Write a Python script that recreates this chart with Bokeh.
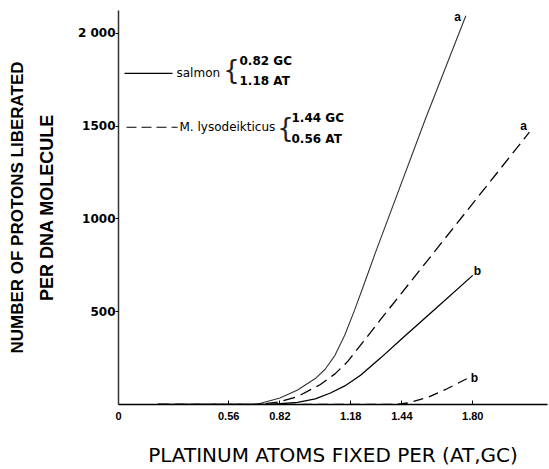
from bokeh.plotting import figure
from bokeh.models import FixedTicker, Label, PrintfTickFormatter, LinearAxis
from bokeh.embed import file_html
from bokeh.resources import INLINE

# ---------------- data ----------------
# salmon DNA (solid lines)
salmon_a_x = [0.20, 0.70, 0.82, 0.91, 1.00, 1.05, 1.10, 1.15, 1.20, 1.25, 1.306, 1.56, 1.765]
salmon_a_y = [0, 0, 35, 78, 140, 190, 265, 375, 510, 655, 820, 1540, 2095]
salmon_b_x = [0.20, 0.77, 0.91, 1.00, 1.077, 1.15, 1.23, 1.331, 1.448, 1.585, 1.80]
salmon_b_y = [0, 0, 12, 30, 62, 100, 158, 250, 362, 492, 696]
# M. lysodeikticus DNA (dashed lines)
lyso_a_x = [0.20, 0.72, 0.82, 0.91, 1.026, 1.10, 1.164, 1.245, 1.331, 1.57, 2.088]
lyso_a_y = [0, 0, 15, 43, 108, 165, 231, 340, 457, 776, 1468]
lyso_b_x = [0.20, 1.41, 1.47, 1.57, 1.67, 1.775]
lyso_b_y = [0, 0, 8, 38, 85, 142]

x_ticks = [0, 0.56, 0.82, 1.18, 1.44, 1.80]
y_ticks = [500, 1000, 1500, 2000]

# ---------------- layout ----------------
W, H = 549, 469
X0_PX, Y0_PX = 118, 405          # canvas position of the origin
PX_PER_X, PX_PER_Y = 196.8, 0.186

p = figure(width=W, height=H, output_backend="svg", toolbar_location=None,
           x_range=(0, 429 / PX_PER_X), y_range=(0, 395 / PX_PER_Y),
           min_border_left=118, min_border_right=2,
           min_border_top=10, min_border_bottom=64)
p.outline_line_color = None
p.xgrid.visible = False
p.ygrid.visible = False
p.background_fill_color = "white"
p.border_fill_color = "white"

# y axis
p.yaxis.ticker = FixedTicker(ticks=y_ticks)
p.yaxis.major_label_overrides = {2000: "2 000"}
p.yaxis.minor_tick_line_color = None
p.yaxis.major_tick_out = 3
p.yaxis.major_tick_in = 0
p.yaxis.major_label_standoff = 0
p.yaxis.axis_line_color = "#333333"
p.yaxis.axis_line_width = 1.5
p.yaxis.major_label_text_font = "DejaVu Sans"
p.yaxis.major_label_text_font_style = "bold"
p.yaxis.major_label_text_font_size = "12px"
p.yaxis.major_label_text_color = "black"
p.yaxis.axis_label = "PER DNA MOLECULE"
p.yaxis.axis_label_text_font = "Liberation Sans"
p.yaxis.axis_label_text_font_style = "bold"
p.yaxis.axis_label_text_font_size = "18px"
p.yaxis.axis_label_text_color = "black"
p.yaxis.axis_label_standoff = 18

outer = LinearAxis(ticker=FixedTicker(ticks=[]), axis_line_color=None,
                   major_tick_line_color=None, minor_tick_line_color=None,
                   axis_label="NUMBER OF PROTONS LIBERATED",
                   axis_label_text_font="Liberation Sans",
                   axis_label_text_font_style="bold",
                   axis_label_text_font_size="17px",
                   axis_label_text_color="black",
                   axis_label_standoff=7)
p.add_layout(outer, "left")

# x axis
p.xaxis.ticker = FixedTicker(ticks=x_ticks)
p.xaxis.formatter = PrintfTickFormatter(format="%.2f")
p.xaxis.major_label_overrides = {0: "0"}
p.xaxis.minor_tick_line_color = None
p.xaxis.major_tick_in = 4
p.xaxis.major_tick_out = 0
p.xaxis.major_label_standoff = 7
p.xaxis.axis_line_color = "black"
p.xaxis.axis_line_width = 1.5
p.xaxis.major_label_text_font = "Liberation Sans"
p.xaxis.major_label_text_font_style = "bold"
p.xaxis.major_label_text_font_size = "11px"
p.xaxis.major_label_text_color = "black"
p.xaxis.axis_label = "PLATINUM ATOMS FIXED PER (AT,GC)"
p.xaxis.axis_label_text_font = "DejaVu Sans"
p.xaxis.axis_label_text_font_style = "normal"
p.xaxis.axis_label_text_font_size = "20px"
p.xaxis.axis_label_text_color = "black"
p.xaxis.axis_label_standoff = 20

# curves
p.line(salmon_a_x, salmon_a_y, line_color="#333333", line_width=1.1)
p.line(salmon_b_x, salmon_b_y, line_color="black", line_width=1.3)
p.line(lyso_a_x, lyso_a_y, line_color="black", line_width=1.3, line_dash="12 6")
p.line(lyso_b_x, lyso_b_y, line_color="black", line_width=1.3, line_dash="10 6")


def fx(px):
    return px - X0_PX


def fy(py):
    return Y0_PX - py


def lab(text, px, py, size="12px", font="DejaVu Sans", style="normal",
        align="left", color="black"):
    p.add_layout(Label(x=fx(px), y=fy(py), x_units="screen", y_units="screen",
                       text=text, text_font=font, text_font_size=size,
                       text_font_style=style, text_align=align,
                       text_baseline="middle", text_color=color))


# curve tags
lab("a", 457, 17, "12px", "Liberation Sans", "bold", "center")
lab("a", 523, 126, "12px", "Liberation Sans", "bold", "center")
lab("b", 477, 271, "12px", "Liberation Sans", "bold", "center")
lab("b", 474, 378, "12px", "Liberation Sans", "bold", "center")


# legend sample lines (positions converted from layout pixels)
def dx(px):
    return (px - X0_PX) / PX_PER_X


def dy(py):
    return (Y0_PX - py) / PX_PER_Y


p.line([dx(124), dx(172)], [dy(73), dy(73)], line_color="black", line_width=1.1)
p.line([dx(126), dx(177)], [dy(127), dy(127)], line_color="black", line_width=1.1,
       line_dash="10 5")

lab("salmon", 176, 73)
lab("M. lysodeikticus", 179, 127)
lab("{", 231, 70, "26px", "DejaVu Sans", "normal", "center", "#222222")
lab("0.82  GC", 239, 61, "12px", "DejaVu Sans", "bold")
lab("1.18  AT", 239, 81, "12px", "DejaVu Sans", "bold")
lab("{", 285, 128, "26px", "DejaVu Sans", "normal", "center", "#222222")
lab("1.44  GC", 291, 118, "12px", "DejaVu Sans", "bold")
lab("0.56  AT", 291, 139, "12px", "DejaVu Sans", "bold")

open("out.html", "w").write(file_html(p, INLINE))
